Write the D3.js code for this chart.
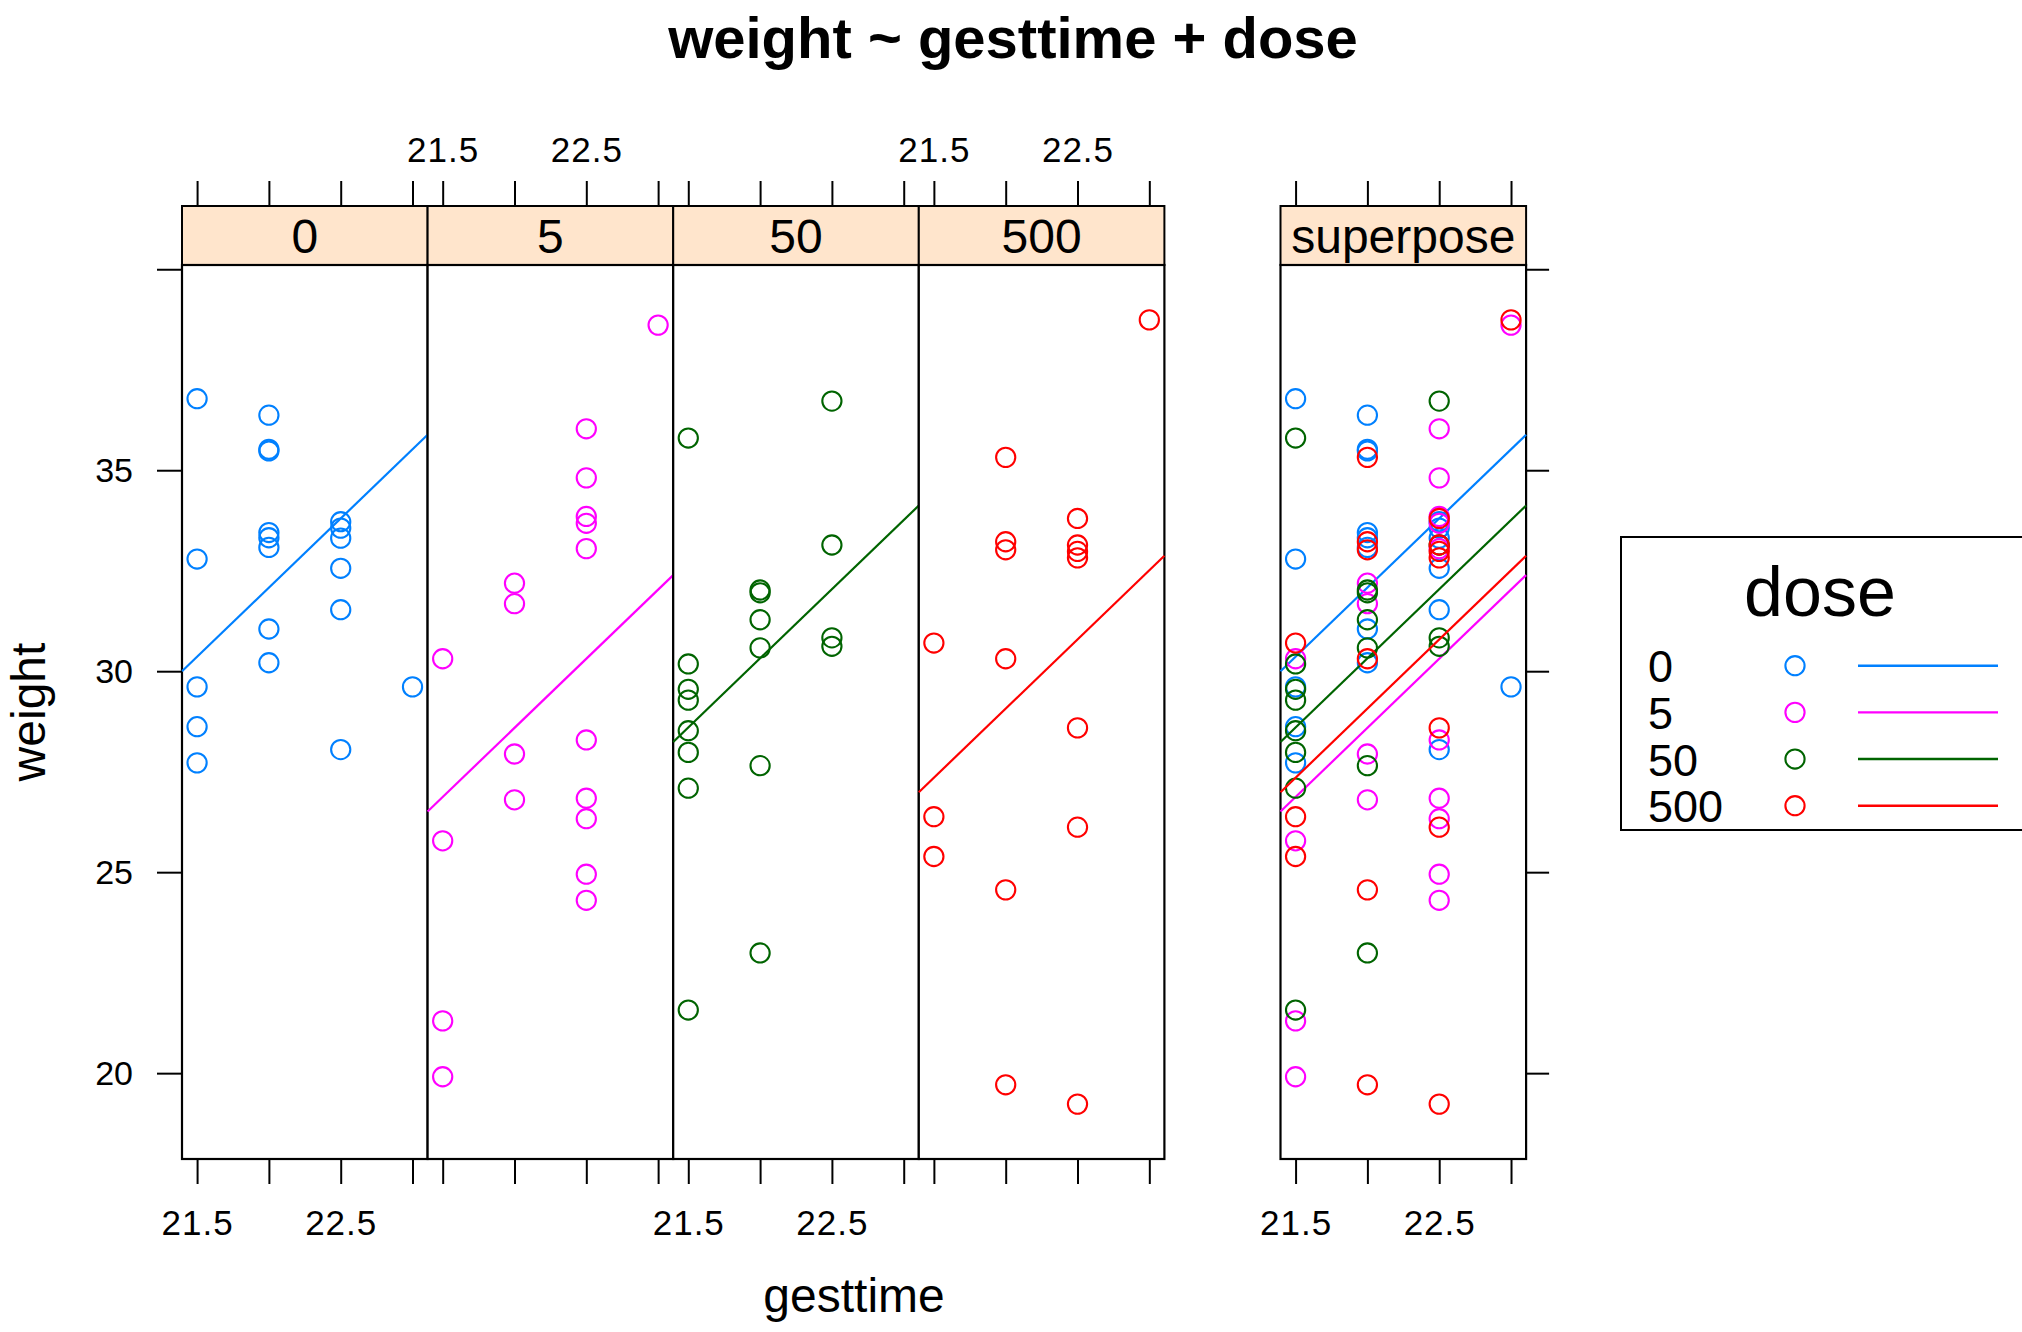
<!DOCTYPE html>
<html>
<head>
<meta charset="utf-8">
<script src="https://cdn.jsdelivr.net/npm/d3@7"></script>
<style>
    body { margin: 0; background: #fff; }
    svg text { font-family: "Liberation Sans", Arial, sans-serif; fill: #000; }
</style>
</head>
<body>
<div id="chart"></div>
<script>
// values (weight ~ gesttime + dose)
const doses = ["0", "5", "50", "500"]
const doseColors = ["#0080ff", "#ff00ff", "#006400", "#ff0000"]

const gest0 = [21.5, 21.5, 21.5, 21.5, 21.5, 22, 22, 22, 22, 22, 22, 22, 22, 22.5, 22.5, 22.5, 22.5, 22.5, 22.5, 23]
const weight0 = [36.78, 32.79, 29.61, 28.62, 27.72, 36.37, 35.52, 35.48, 33.45, 33.32, 33.08, 31.05, 30.21, 33.72, 33.56, 33.31, 32.56, 31.53, 28.05, 29.61]

const gest5 = [21.5, 21.5, 21.5, 21.5, 22, 22, 22, 22, 22.5, 22.5, 22.5, 22.5, 22.5, 22.5, 22.5, 22.5, 22.5, 22.5, 23]
const weight5 = [30.31, 25.78, 21.30, 19.91, 32.19, 31.68, 27.94, 26.80, 36.03, 34.81, 33.85, 33.68, 33.05, 28.29, 26.84, 26.33, 24.95, 24.30, 38.61]

const gest50 = [21.5, 21.5, 21.5, 21.5, 21.5, 21.5, 21.5, 21.5, 22, 22, 22, 22, 22, 22, 22.5, 22.5, 22.5, 22.5]
const weight50 = [35.80, 30.18, 29.55, 29.28, 28.52, 27.98, 27.09, 21.57, 32.02, 31.95, 31.28, 30.58, 27.65, 22.99, 36.72, 33.14, 30.83, 30.62]

const gest500 = [21.5, 21.5, 21.5, 22, 22, 22, 22, 22, 22, 22.5, 22.5, 22.5, 22.5, 22.5, 22.5, 22.5, 23]
const weight500 = [30.70, 26.38, 25.39, 35.32, 33.22, 33.02, 30.31, 24.56, 19.71, 33.80, 33.14, 32.98, 32.82, 28.59, 26.12, 19.23, 38.74]

// common slope, fitted weight at gesttime 22.25 for each dose
const fitSlope = 3.44
const fitCentre = 22.25
const fitAtCentre = [32.94, 29.45, 31.18, 29.93]

const xTicks = [21.5, 22, 22.5, 23]
const xTickLabels = ["21.5", "", "22.5", ""]
const yTicks = [20, 25, 30, 35, 40]
const yTickLabels = ["20", "25", "30", "35", ""]

const allGest = [gest0, gest5, gest50, gest500]
const allWeight = [weight0, weight5, weight50, weight500]


class AncovaPlot {
    constructor(_parent_element) {
        this.parent_element = _parent_element
        this.width = 2022
        this.height = 1332
        this.top = 265
        this.bottom = 1159
        this.stripH = 59
        this.panelW = 245.6
        // 4 dose panels side by side, then the superpose panel
        this.panelLefts = [182, 427.6, 673.2, 918.8, 1280.5]
        this.radius = 9.6
        this.initVis()
    }

    initVis() {
        const vis = this

        vis.svg = d3.select(vis.parent_element)
            .append("svg")
            .attr("width", vis.width)
            .attr("height", vis.height)

        vis.groups = doses.map((d, i) => ({
            dose: d,
            color: doseColors[i],
            points: allGest[i].map((g, j) => ({x: g, y: allWeight[i][j]})),
            centre: fitAtCentre[i]
        }))

        // lattice pads the data range by 7% on each side
        const xr = d3.extent(allGest.flat())
        const yr = d3.extent(allWeight.flat())
        const xp = (xr[1] - xr[0]) * 0.07
        const yp = (yr[1] - yr[0]) * 0.07

        vis.xScale = d3.scaleLinear()
            .domain([xr[0] - xp, xr[1] + xp])
            .range([0, vis.panelW])
        vis.yScale = d3.scaleLinear()
            .domain([yr[0] - yp, yr[1] + yp])
            .range([vis.bottom, vis.top])

        vis.renderVis()
    }

    drawGroup(g, grp) {
        const vis = this
        const [x0, x1] = vis.xScale.domain()
        g.selectAll(null)
            .data(grp.points)
            .join("circle")
            .attr("cx", d => vis.xScale(d.x))
            .attr("cy", d => vis.yScale(d.y))
            .attr("r", vis.radius)
            .attr("fill", "none")
            .attr("stroke", grp.color)
            .attr("stroke-width", 2.1)

        const ends = [x0, x1].map(x => ({x: x, y: grp.centre + fitSlope * (x - fitCentre)}))
        g.append("path")
            .datum(ends)
            .attr("d", d3.line().x(d => vis.xScale(d.x)).y(d => vis.yScale(d.y)))
            .attr("fill", "none")
            .attr("stroke", grp.color)
            .attr("stroke-width", 2.2)
    }

    renderVis() {
        const vis = this

        vis.svg.append("text")
            .attr("x", 1013)
            .attr("y", 58)
            .attr("text-anchor", "middle")
            .style("font-size", "58px")
            .style("font-weight", "bold")
            .text("weight ~ gesttime + dose")

        const stripNames = doses.concat(["superpose"])

        stripNames.forEach((name, i) => {
            const p = vis.svg.append("g")
                .attr("transform", `translate(${vis.panelLefts[i]},0)`)

            // strip
            p.append("rect")
                .attr("x", 0)
                .attr("y", vis.top - vis.stripH)
                .attr("width", vis.panelW)
                .attr("height", vis.stripH)
                .attr("fill", "#ffe5cc")
                .attr("stroke", "#000")
                .attr("stroke-width", 2)
            p.append("text")
                .attr("x", vis.panelW / 2)
                .attr("y", vis.top - 12)
                .attr("text-anchor", "middle")
                .style("font-size", "48px")
                .text(name)

            // panel body
            p.append("rect")
                .attr("x", 0)
                .attr("y", vis.top)
                .attr("width", vis.panelW)
                .attr("height", vis.bottom - vis.top)
                .attr("fill", "#fff")
                .attr("stroke", "#000")
                .attr("stroke-width", 2.2)

            if (i < 4) {
                vis.drawGroup(p.append("g"), vis.groups[i])
            } else {
                vis.groups.forEach(grp => vis.drawGroup(p.append("g"), grp))
            }

            // x axes: labels alternate bottom/top like lattice does
            const labelsTop = (i === 1 || i === 3)
            const topAxis = d3.axisTop(vis.xScale)
                .tickValues(xTicks)
                .tickSize(25)
                .tickPadding(19)
                .tickFormat((d, k) => labelsTop ? xTickLabels[k] : "")
            const bottomAxis = d3.axisBottom(vis.xScale)
                .tickValues(xTicks)
                .tickSize(25)
                .tickPadding(26)
                .tickFormat((d, k) => labelsTop ? "" : xTickLabels[k])

            p.append("g")
                .attr("class", "axis xaxis")
                .attr("transform", `translate(0,${vis.top - vis.stripH})`)
                .call(topAxis)
            p.append("g")
                .attr("class", "axis xaxis")
                .attr("transform", `translate(0,${vis.bottom})`)
                .call(bottomAxis)
        })

        // y axis on the far left, bare ticks on the right of superpose
        vis.svg.append("g")
            .attr("class", "axis")
            .attr("transform", `translate(${vis.panelLefts[0]},0)`)
            .call(d3.axisLeft(vis.yScale)
                .tickValues(yTicks)
                .tickSize(25)
                .tickPadding(24)
                .tickFormat((d, k) => yTickLabels[k]))
        vis.svg.append("g")
            .attr("class", "axis")
            .attr("transform", `translate(${vis.panelLefts[4] + vis.panelW},0)`)
            .call(d3.axisRight(vis.yScale)
                .tickValues(yTicks)
                .tickSize(23)
                .tickFormat(""))

        vis.svg.selectAll(".axis .domain").remove()
        vis.svg.selectAll(".axis line").attr("stroke", "#000").attr("stroke-width", 2)
        vis.svg.selectAll(".axis text")
            .attr("fill", "#000")
            .style("font-size", "34px")
            .style("font-family", "\"Liberation Sans\", Arial, sans-serif")
        // the gesttime labels run a bit wider in the original
        vis.svg.selectAll(".xaxis text").style("font-size", "35px").style("letter-spacing", "1px")

        // axis titles
        vis.svg.append("text")
            .attr("x", (vis.panelLefts[0] + vis.panelLefts[4] + vis.panelW) / 2)
            .attr("y", 1312)
            .attr("text-anchor", "middle")
            .style("font-size", "48px")
            .text("gesttime")
        vis.svg.append("text")
            .attr("transform", `translate(45,${(vis.top + vis.bottom) / 2}) rotate(-90)`)
            .attr("text-anchor", "middle")
            .style("font-size", "48px")
            .text("weight")

        vis.drawLegend()
    }

    drawLegend() {
        const vis = this
        const lg = vis.svg.append("g")

        lg.append("rect")
            .attr("x", 1621)
            .attr("y", 537)
            .attr("width", 430)
            .attr("height", 293)
            .attr("fill", "#fff")
            .attr("stroke", "#000")
            .attr("stroke-width", 2)
        lg.append("text")
            .attr("x", 1820)
            .attr("y", 616)
            .attr("text-anchor", "middle")
            .style("font-size", "70px")
            .text("dose")

        const rowY = d3.scalePoint().domain(doses).range([665.7, 805.7])

        const row = lg.selectAll(".row")
            .data(vis.groups)
            .join("g")
            .attr("class", "row")
            .attr("transform", d => `translate(0,${rowY(d.dose)})`)

        row.append("text")
            .attr("x", 1648)
            .attr("y", 16.5)
            .style("font-size", "45px")
            .text(d => d.dose)
        row.append("circle")
            .attr("cx", 1795)
            .attr("cy", 0)
            .attr("r", vis.radius)
            .attr("fill", "none")
            .attr("stroke", d => d.color)
            .attr("stroke-width", 2.1)
        row.append("line")
            .attr("x1", 1858)
            .attr("x2", 1998)
            .attr("y1", 0)
            .attr("y2", 0)
            .attr("stroke", d => d.color)
            .attr("stroke-width", 2.4)
    }
}

new AncovaPlot("#chart")
</script>
</body>
</html>
